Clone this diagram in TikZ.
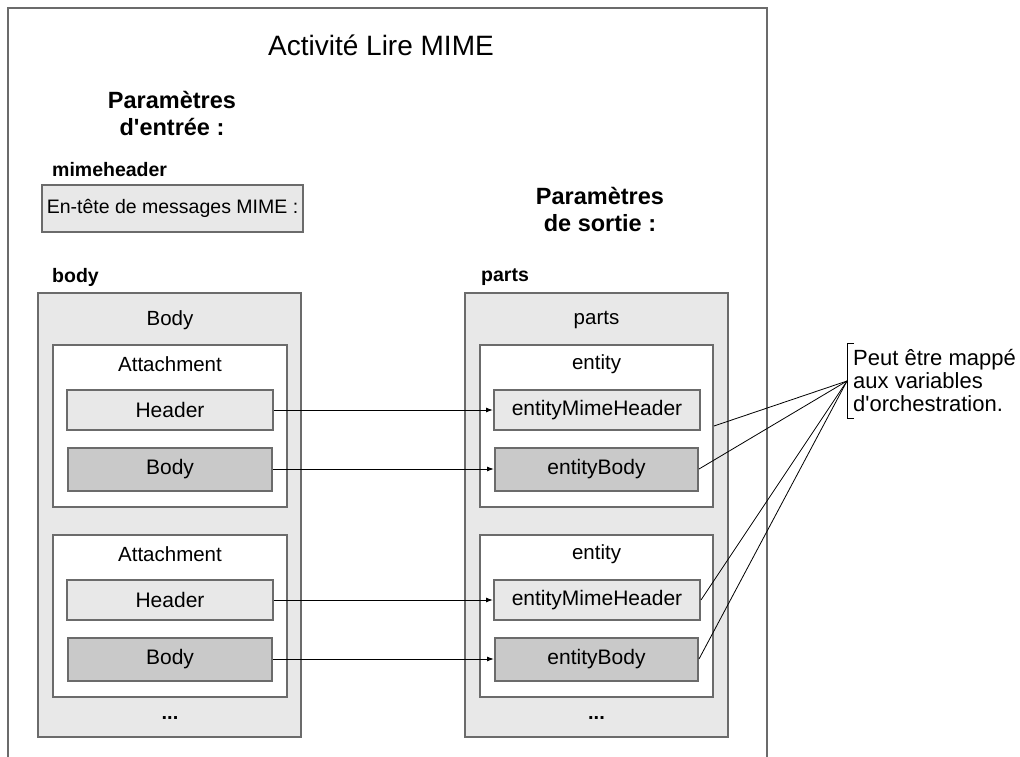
\documentclass[tikz,border=0pt]{standalone}
\usepackage{fontspec}
\setmainfont{Liberation Sans}[Ligatures=TeXOff]
\usetikzlibrary{positioning,calc,arrows.meta}
\definecolor{frameline}{gray}{0.42}
\definecolor{panelfill}{gray}{0.91}
\definecolor{bodyfill}{gray}{0.79}

\begin{document}
\begin{tikzpicture}[x=1pt, y=-1pt,
  panel/.style={draw=frameline, line width=2pt, fill=panelfill, inner sep=0pt},
  holder/.style={panel, fill=white, minimum width=234, minimum height=162},
  field/.style={panel, minimum width=206, minimum height=40, font=\fontsize{21}{24}\selectfont},
  bodyfield/.style={field, fill=bodyfill, minimum width=204, minimum height=43},
  caption/.style={font=\fontsize{20.5}{24}\selectfont, inner sep=0pt},
  heading/.style={font=\fontsize{23.5}{27}\selectfont\bfseries, align=center, inner sep=0pt},
  varname/.style={font=\fontsize{19.5}{24}\selectfont\bfseries, anchor=west, inner sep=0pt},
  link/.style={line width=1pt, -{Latex[length=7pt,width=5pt]}},
  maps/.style={line width=0.8pt}]
  \useasboundingbox (0,0) rectangle (1020,757);

  % Activity frame
  \draw[frameline, line width=2pt] (8,757) -- (8,8) -- (767,8) -- (767,757);
  \node[font=\fontsize{28}{30}\selectfont, inner sep=0pt] (act) at (381,45) {Activité Lire MIME};

  % Input parameters
  \node[heading] (inp) at (172,113.5) {Paramètres\\d'entrée :};
  \node[varname] (mhname) at (52,170) {mimeheader};
  \node[panel, minimum width=261, minimum height=47, font=\fontsize{19.5}{22}\selectfont] (mh) at (172.5,208.5) {En-tête de messages MIME :};

  % Output parameters
  \node[heading] (outp) at (600,209.5) {Paramètres\\de sortie :};

  % body and parts containers
  \node[varname] (bodyname) at (52,277) {body};
  \node[panel, minimum width=263, minimum height=444] (body) at (169.5,515) {};
  \node[caption] at (170,320) {Body};
  \node[caption, font=\fontsize{20}{24}\selectfont\bfseries] at (170,718) {...};

  \node[varname] (partsname) at (481,277) {parts};
  \node[panel, minimum width=263, minimum height=444] (parts) at (596.5,515) {};
  \node[caption] at (596.5,320) {parts};
  \node[caption, font=\fontsize{20}{24}\selectfont\bfseries] at (596.5,718) {...};

  % Attachments and entities
  \foreach \i/\y in {1/426, 2/616} {
    \node[holder] (att\i) at (170,\y) {};
    \node[caption] at (170,\y-62) {Attachment};
    \node[field] (hdr\i) at (170,\y-16) {Header};
    \node[bodyfield] (bdy\i) at (170,\y+43) {Body};

    \node[holder, minimum width=233] (ent\i) at (596.5,\y) {};
    \node[caption] at (596.5,\y-62) {entity};
    \node[field] (emh\i) at (597,\y-16) {entityMimeHeader};
    \node[bodyfield, minimum width=203] (ebd\i) at (596.5,\y+43) {entityBody};

    \draw[link] (hdr\i) -- (emh\i);
    \draw[link] (bdy\i) -- (ebd\i);
  }

  % Note
  \node[font=\fontsize{22}{23}\selectfont, align=left, anchor=west, inner xsep=6pt, inner ysep=6pt] (note) at (847,381)
    {Peut être mappé\\aux variables\\d'orchestration.};
  \draw[line width=1pt] ([xshift=7pt]note.north west) -- (note.north west) -- (note.south west) -- ([xshift=7pt]note.south west);

  \draw[maps] (ent1.east) -- (note.west);
  \draw[maps] (ebd1.east) -- (note.west);
  \draw[maps] (emh2.east) -- (note.west);
  \draw[maps] (ebd2.east) -- (note.west);
\end{tikzpicture}
\end{document}
